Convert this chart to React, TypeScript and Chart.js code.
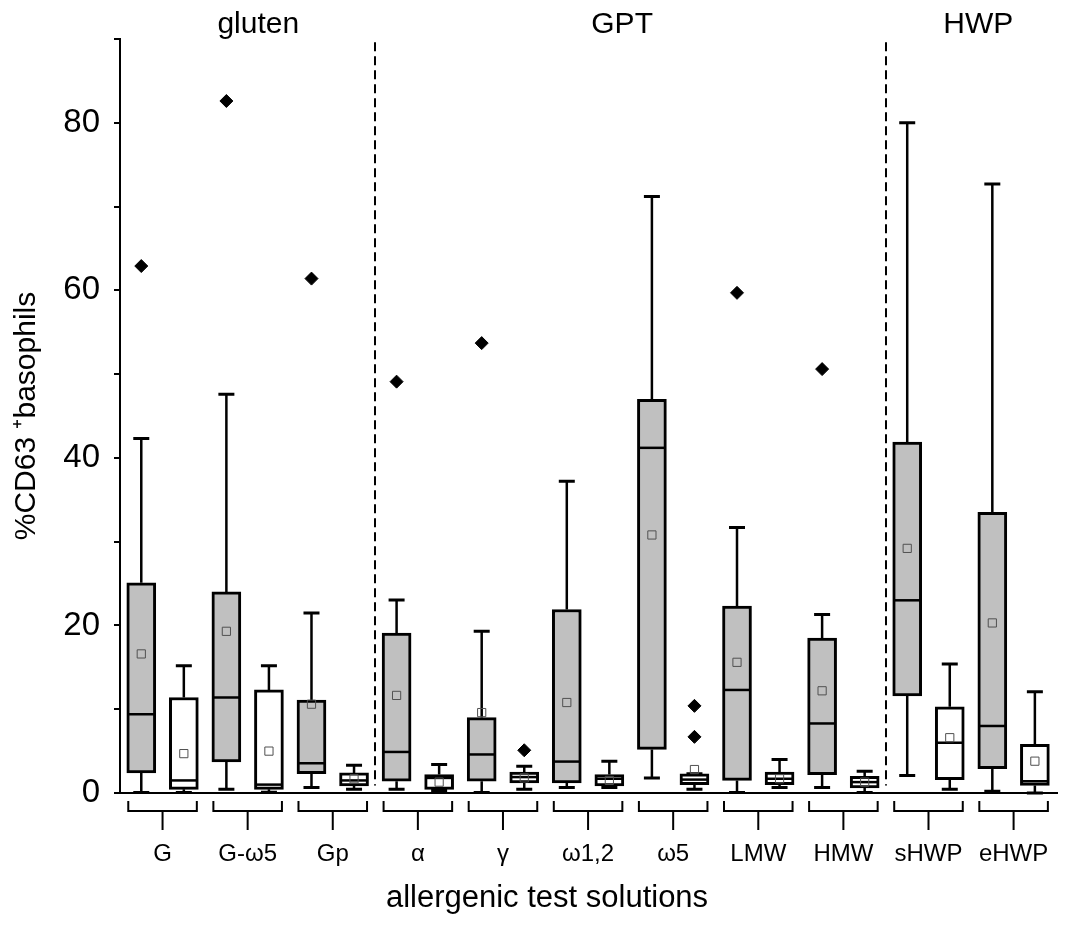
import React, { useEffect, useRef } from 'react';
import { Chart, registerables } from 'chart.js';

Chart.register(...registerables);

// ---- data ----
const categories = ['G', 'G-ω5', 'Gp', 'α', 'γ', 'ω1,2', 'ω5', 'LMW', 'HMW', 'sHWP', 'eHWP'];
const groupTitles = ['gluten', 'GPT', 'HWP'];
const groupTitleAt = [2.75, 11.3, 19.67];
const separatorsAt = [5.5, 17.5];
const xTitle = 'allergenic test solutions';
const yTitle = '%CD63 ⁺basophils';

// 22 boxes: for each category a grey box followed by a white box
const whiskerLow = [0.05, 0.05, 0.44, 0.1, 0.65, 0.44, 0.44, 0.3, 0.05, 0.44, 0.65, 0.65, 1.8, 0.44, 0.05, 0.65, 0.65, 0.05, 2.1, 0.44, 0.2, 0.0];
const q1 = [2.4, 0.44, 3.7, 0.44, 2.3, 0.84, 1.4, 0.44, 1.4, 1.2, 1.2, 0.84, 5.2, 1.0, 1.5, 1.0, 2.2, 0.6, 11.6, 1.6, 2.9, 0.9];
const median = [9.4, 1.5, 11.4, 1.0, 3.55, 1.5, 4.9, 1.8, 4.6, 1.9, 3.75, 1.7, 41.2, 1.6, 12.3, 1.7, 8.3, 1.3, 23.0, 6.0, 8.0, 1.4];
const q3 = [25.1, 11.4, 24.0, 12.3, 11.1, 2.4, 19.1, 2.2, 9.0, 2.5, 21.9, 2.2, 47.0, 2.3, 22.3, 2.5, 18.5, 2.0, 41.9, 10.3, 33.5, 5.8];
const whiskerHigh = [42.3, 15.2, 47.6, 15.2, 21.5, 3.3, 23.05, 3.4, 19.3, 3.2, 37.2, 3.8, 71.2, 2.3, 31.7, 4.0, 21.3, 2.6, 80.0, 15.4, 72.7, 12.1];
const mean = [16.6, 4.7, 19.3, 5.0, 10.6, 1.7, 11.65, 1.3, 9.6, 1.8, 10.8, 1.5, 30.8, 2.8, 15.6, 1.7, 12.2, 1.3, 29.2, 6.6, 20.3, 3.8];

const outlierBox = [0, 2, 4, 6, 8, 9, 13, 13, 14, 16];
const outlierValue = [62.9, 82.6, 61.4, 49.1, 53.7, 5.1, 10.4, 6.7, 59.7, 50.6];

const FONT = "'Liberation Sans', Arial, Helvetica, sans-serif";
const GREY = '#c0c0c0';

const boxExtras = {
  id: 'boxExtras',
  beforeDatasetsDraw(chart: any) {
    const { ctx, scales } = chart;
    const x = scales.x;
    const y = scales.y;
    ctx.save();
    ctx.strokeStyle = '#000';
    // dashed group separators
    ctx.lineWidth = 2;
    ctx.setLineDash([9, 5]);
    separatorsAt.forEach((s) => {
      const px = Math.round(x.getPixelForValue(s));
      ctx.beginPath();
      ctx.moveTo(px, y.getPixelForValue(89.6));
      ctx.lineTo(px, y.getPixelForValue(0.9));
      ctx.stroke();
    });
    ctx.setLineDash([]);
    // whiskers
    for (let i = 0; i < q1.length; i++) {
      const cx = x.getPixelForValue(i);
      const yHi = y.getPixelForValue(whiskerHigh[i]);
      const yLo = y.getPixelForValue(whiskerLow[i]);
      const yQ3 = y.getPixelForValue(q3[i]);
      const yQ1 = y.getPixelForValue(q1[i]);
      ctx.lineWidth = 2.5;
      ctx.beginPath();
      ctx.moveTo(cx, yQ3);
      ctx.lineTo(cx, yHi);
      ctx.moveTo(cx, yQ1);
      ctx.lineTo(cx, yLo);
      ctx.stroke();
      ctx.lineWidth = 3;
      ctx.beginPath();
      ctx.moveTo(cx - 8, yHi);
      ctx.lineTo(cx + 8, yHi);
      ctx.moveTo(cx - 8, yLo);
      ctx.lineTo(cx + 8, yLo);
      ctx.stroke();
    }
    ctx.restore();
  },
  afterDatasetDraw(chart: any, args: any) {
    if (args.index !== 0) return;
    const { ctx, scales } = chart;
    const x = scales.x;
    const y = scales.y;
    ctx.save();
    ctx.strokeStyle = '#000';
    ctx.lineWidth = 2.5;
    for (let i = 0; i < median.length; i++) {
      const cx = x.getPixelForValue(i);
      const py = y.getPixelForValue(median[i]);
      ctx.beginPath();
      ctx.moveTo(cx - 13, py);
      ctx.lineTo(cx + 13, py);
      ctx.stroke();
    }
    ctx.restore();
  },
  afterDraw(chart: any) {
    const { ctx, scales, chartArea, width } = chart;
    const x = scales.x;
    ctx.save();
    ctx.strokeStyle = '#000';
    ctx.lineWidth = 2;
    const b = chartArea.bottom;
    categories.forEach((_, g) => {
      const l = x.getPixelForValue(2 * g) - 13;
      const r = x.getPixelForValue(2 * g + 1) + 13;
      const c = (l + r) / 2;
      ctx.beginPath();
      ctx.moveTo(l, b + 8);
      ctx.lineTo(l, b + 18);
      ctx.lineTo(r, b + 18);
      ctx.lineTo(r, b + 8);
      ctx.moveTo(c, b + 18);
      ctx.lineTo(c, b + 37);
      ctx.stroke();
    });
    ctx.fillStyle = '#000';
    ctx.font = `30px ${FONT}`;
    ctx.textAlign = 'center';
    ctx.textBaseline = 'alphabetic';
    groupTitles.forEach((t, k) => {
      ctx.fillText(t, x.getPixelForValue(groupTitleAt[k]), chartArea.top - 6);
    });
    // x-axis title, centred on the figure as in the reference
    ctx.font = `31px ${FONT}`;
    ctx.fillText(xTitle, width / 2 + 12, b + 114);
    ctx.restore();
  },
};

export default function App() {
  const ref = useRef<HTMLCanvasElement | null>(null);

  useEffect(() => {
    if (!ref.current) return;
    Chart.defaults.font.family = FONT;
    Chart.defaults.color = '#000';

    const chart = new Chart(ref.current, {
      type: 'bar',
      data: {
        datasets: [
          {
            type: 'bar',
            label: 'boxes',
            data: q1.map((lo, i) => ({ x: i, y: [lo, q3[i]] })) as any,
            backgroundColor: q1.map((_, i) => (i % 2 === 0 ? GREY : '#ffffff')),
            borderColor: '#000',
            borderWidth: 3,
            borderSkipped: false,
            barThickness: 29,
            order: 3,
          } as any,
          {
            type: 'scatter',
            label: 'mean',
            data: mean.map((m, i) => ({ x: i, y: m })),
            pointStyle: 'rect',
            pointRadius: 5.8,
            borderColor: '#505050',
            borderWidth: 1,
            backgroundColor: 'rgba(0,0,0,0)',
            order: 2,
          } as any,
          {
            type: 'scatter',
            label: 'outliers',
            data: outlierBox.map((bx, k) => ({ x: bx, y: outlierValue[k] })),
            pointStyle: 'rectRot',
            pointRadius: 6.5,
            borderColor: '#000',
            borderWidth: 1,
            backgroundColor: '#000',
            order: 1,
          } as any,
        ],
      },
      options: {
        animation: false,
        responsive: false,
        events: [],
        layout: { padding: { top: 39, right: 13, bottom: 0, left: 0 } },
        plugins: {
          legend: { display: false },
          tooltip: { enabled: false },
        },
        scales: {
          x: {
            type: 'linear',
            min: -0.5,
            max: 21.52,
            offset: false,
            grid: { display: false, offset: false },
            border: { display: true, color: '#000', width: 2 },
            afterBuildTicks: (scale: any) => {
              scale.ticks = categories.map((_, g) => ({ value: 2 * g + 0.5 }));
            },
            afterFit: (scale: any) => {
              scale.height = 141;
              scale.paddingLeft = 0;
              scale.paddingRight = 0;
            },
            ticks: {
              autoSkip: false,
              maxRotation: 0,
              minRotation: 0,
              padding: 39,
              font: { size: 24 },
              color: '#000',
              callback: (_v: any, index: number) => categories[index],
            },
            title: { display: false },
          } as any,
          y: {
            type: 'linear',
            min: 0,
            max: 90,
            grid: {
              display: true,
              drawOnChartArea: false,
              drawTicks: true,
              tickLength: 6,
              color: '#000',
              lineWidth: 2,
            },
            border: { display: true, color: '#000', width: 2 },
            afterFit: (scale: any) => {
              scale.width = 120;
            },
            ticks: {
              stepSize: 10,
              padding: 14,
              font: { size: 33 },
              color: '#000',
              callback: (v: any) => (Number(v) % 20 === 0 ? String(v) : ''),
            },
            title: {
              display: true,
              text: yTitle,
              font: { size: 30 },
              color: '#000',
              padding: { top: 9, bottom: 0 },
            },
          } as any,
        },
      },
      plugins: [boxExtras],
    } as any);

    return () => chart.destroy();
  }, []);

  return (
    <div style={{ position: 'absolute', left: 0, top: 0, width: 1070, height: 934, background: '#fff' }}>
      <canvas ref={ref} width={1070} height={934} />
    </div>
  );
}
